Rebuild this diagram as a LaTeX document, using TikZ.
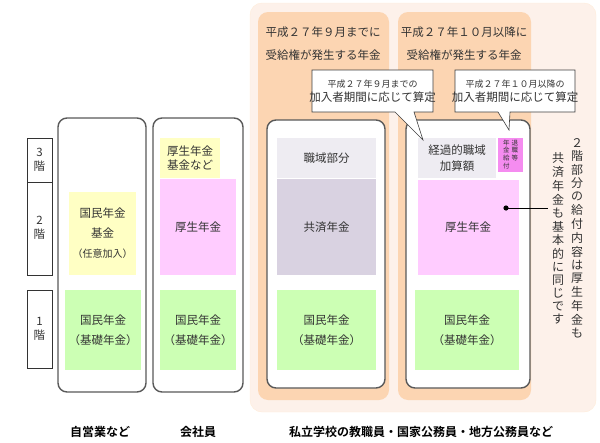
\documentclass[tikz,border=0pt]{standalone}
\usepackage{fontspec}
\setmainfont{Noto Sans CJK JP}[BoldFont={* Bold}]
\begin{document}
\begin{tikzpicture}[x=1pt,y=-1pt,
  every node/.style={font=\fontsize{11.5}{14}\selectfont,text=black!80,align=center,inner sep=0pt},
  gbox/.style={draw=black!65,line width=1.4pt,rounded corners=9pt,fill=white},
  flr/.style={draw=black!80,line width=0.6pt,fill=white},
  call/.style={draw=black!75,line width=0.6pt,fill=white},
  vt/.style={font=\fontsize{12}{13.6}\selectfont,anchor=north},
  lab/.style={font=\bfseries\fontsize{12}{14}\selectfont,text=black}]
\useasboundingbox (0,0) rectangle (600,442);
\definecolor{bgp}{HTML}{FDF1EA}\definecolor{org}{HTML}{FCD5B2}
\definecolor{yel}{HTML}{FFFFC4}\definecolor{pnk}{HTML}{FFCCFF}
\definecolor{grn}{HTML}{CCFFB4}\definecolor{lg}{HTML}{EEECF2}
\definecolor{pg}{HTML}{D9D2E1}\definecolor{mag}{HTML}{F58CF0}
\fill[bgp,draw=orange!15,rounded corners=12pt] (250,3) rectangle (596,412);
\fill[org,rounded corners=10pt] (258,12) rectangle (389,400);
\fill[org,rounded corners=10pt] (398,12) rectangle (531,400);
\node (h1) at (323,32) {平成２７年９月までに};
\node (h1b) at (323,55) {受給権が発生する年金};
\node (h2) at (464,32) {平成２７年１０月以降に};
\node (h2b) at (464,55) {受給権が発生する年金};
% gray boxes
\draw[gbox] (58,118) rectangle (146,392);
\draw[gbox] (153,118) rectangle (243,392);
\draw[gbox] (267,120) rectangle (385,388);
\draw[gbox] (406,120) rectangle (530,388);
% floors
\draw[flr] (27,138) rectangle (52,182); \node (f3) at (39.5,160) {3\\階};
\draw[flr] (27,182) rectangle (52,275); \node (f2) at (39.5,228) {2\\階};
\draw[flr] (27,290) rectangle (52,368); \node (f1) at (39.5,329) {1\\階};
% col1
\fill[yel] (69,192) rectangle (136,275);
\node (a2) at (102.5,233) {国民年金\\[6pt]基金\\[6pt]{\fontsize{10}{12}\selectfont（任意加入）}};
\fill[grn] (65,290) rectangle (141,370);
\node (a1) at (103,330) {国民年金\\[6pt]（基礎年金）};
% col2
\fill[yel] (160,138) rectangle (220,178);
\node (b3) at (190,158) {厚生年金\\基金など};
\fill[pnk] (160,179) rectangle (236,275);
\node (b2) at (198,227) {厚生年金};
\fill[grn] (160,290) rectangle (236,370);
\node (b1) at (198,330) {国民年金\\[6pt]（基礎年金）};
% col3
\fill[lg] (277,138) rectangle (376,178);
\node (c3) at (326.5,158) {職域部分};
\fill[pg] (277,179) rectangle (376,275);
\node (c2) at (326.5,227) {共済年金};
\fill[grn] (277,290) rectangle (376,370);
\node (c1) at (326.5,330) {国民年金\\[6pt]（基礎年金）};
% col4
\fill[lg] (418,138) rectangle (496,178);
\node (d3) at (457,158) {経過的職域\\[2pt]加算額};
\fill[mag] (498,138) rectangle (523,172);
\node (d3b) at (510.5,155) {\fontsize{6.5}{7}\selectfont\begin{tabular}{@{}c@{\hspace{2pt}}c@{}}年&退\\金&職\\給&等\\付&\end{tabular}};
\fill[pnk] (418,180) rectangle (519,275);
\node (d2) at (468,227) {厚生年金};
\fill[grn] (415,290) rectangle (519,370);
\node (d1) at (467,330) {国民年金\\[6pt]（基礎年金）};
% callouts
\draw[call] (312,70) -- (433,70) -- (433,112) -- (414,112) -- (423,140) -- (395,112) -- (312,112) -- cycle;
\node (k1) at (372.5,91) {\fontsize{9}{13}\selectfont 平成２７年９月までの\\加入者期間に応じて算定};
\draw[call] (455,70) -- (575,70) -- (575,112) -- (510,112) -- (509,130) -- (498,112) -- (455,112) -- cycle;
\node (k2) at (515,91) {\fontsize{9}{13}\selectfont 平成２７年１０月以降の\\加入者期間に応じて算定};
% vertical note
\node[vt] (v1) at (577,138) {\shortstack{２\\階\\部\\分\\の\\給\\付\\内\\容\\は\\厚\\生\\年\\金\\も}};
\node[vt] (v2) at (558,152) {\shortstack{共\\済\\年\\金\\も\\基\\本\\的\\に\\同\\じ\\で\\す}};
\fill[black] (506,208) circle (2.6pt) coordinate (dot);
\coordinate (le) at (548,208);
\draw[line width=0.6pt] (506,208) -- (le);
% bottom labels
\node[lab] (l1) at (100,432) {自営業など};
\node[lab] (l2) at (198,432) {会社員};
\node[lab] (l3) at (421,432) {私立学校の教職員・国家公務員・地方公務員など};
\end{tikzpicture}
\end{document}
